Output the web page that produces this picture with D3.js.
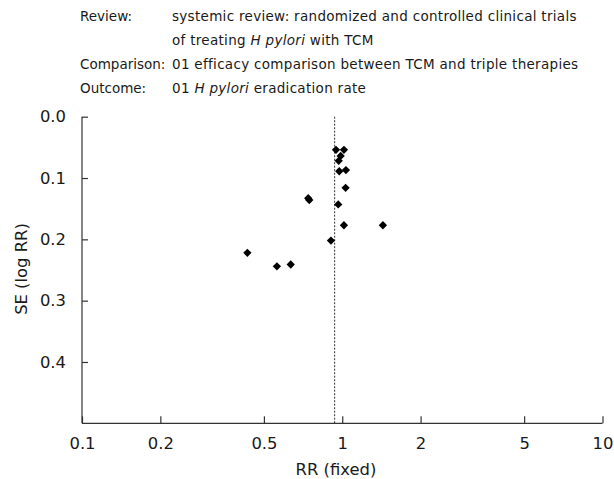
<!DOCTYPE html>
<html>
<head>
<meta charset="utf-8">
<script src="https://cdn.jsdelivr.net/npm/d3@7"></script>
<style>
  body { margin: 0; background: #fff; }
  text { font-family: "DejaVu Sans", sans-serif; fill: #1a1a1a; }
</style>
</head>
<body>
<svg id="chart" width="614" height="479"></svg>
<script>
// risque relatif de chaque essai (axe x) et son erreur standard (axe y)
const rrValues = [0.946, 1.015, 0.986, 0.969, 0.974, 1.033, 1.030, 0.740, 0.747, 0.965, 1.015, 1.433, 0.905, 0.432, 0.561, 0.634];
const seValues = [0.054, 0.054, 0.064, 0.072, 0.089, 0.087, 0.116, 0.133, 0.136, 0.143, 0.177, 0.177, 0.202, 0.222, 0.244, 0.241];
const pooledRR = 0.935;
const xTicks = [0.1, 0.2, 0.5, 1, 2, 5, 10];
const yTicks = [0.0, 0.1, 0.2, 0.3, 0.4];

const svg = d3.select('#chart');

const x = d3.scaleLog().domain([0.1, 10]).range([82, 602.5]);
const y = d3.scaleLinear().domain([0, 0.5]).range([116.7, 423.3]);

// en-tête
const header = [
  { lab: 'Review:', parts: [['systemic review: randomized and controlled clinical trials', false]] },
  { lab: '', parts: [['of treating ', false], ['H pylori', true], [' with TCM', false]] },
  { lab: 'Comparison:', parts: [['01 efficacy comparison between TCM and triple therapies', false]] },
  { lab: 'Outcome:', parts: [['01 ', false], ['H pylori', true], [' eradication rate', false]] }
];
header.forEach(function (h, i) {
  let yy = 20.5 + i * 24;
  svg.append('text').attr('x', 80).attr('y', yy).attr('font-size', 13.5).text(h.lab);
  let t = svg.append('text').attr('x', 172).attr('y', yy).attr('font-size', 13.5)
    .attr('letter-spacing', 0.3);
  h.parts.forEach(function (p) {
    t.append('tspan').attr('font-style', p[1] ? 'italic' : 'normal').text(p[0]);
  });
});

// axes
const xAxis = d3.axisBottom(x).tickValues(xTicks).tickSize(-6).tickPadding(14)
  .tickFormat(d3.format('~g'));
const gx = svg.append('g').attr('transform', 'translate(0,' + y(0.5) + ')').call(xAxis);
gx.select('.domain').attr('d', 'M' + x(0.1) + ',0H' + x(10));

const yAxis = d3.axisLeft(y).tickValues(yTicks).tickSize(-6).tickPadding(16)
  .tickFormat(d3.format('.1f'));
const gy = svg.append('g').attr('transform', 'translate(' + x(0.1) + ',0)').call(yAxis);
gy.select('.domain').attr('d', 'M0,' + y(0) + 'V' + y(0.5));

svg.selectAll('.tick text').attr('font-size', 16.4).attr('font-family', '"DejaVu Sans", sans-serif').attr('fill', '#1a1a1a');
svg.selectAll('.tick line, .domain').attr('stroke', '#333').attr('stroke-width', 1.2);
gx.selectAll('.tick line').attr('y2', -7);

// ligne de l'effet combiné
svg.append('line')
  .attr('x1', x(pooledRR)).attr('x2', x(pooledRR))
  .attr('y1', y(0)).attr('y2', y(0.5))
  .attr('stroke', '#333').attr('stroke-width', 1).attr('stroke-dasharray', '2,1.5');

// points
const sym = d3.symbol().type(d3.symbolDiamond2).size(44);
svg.selectAll('path.pt')
  .data(rrValues)
  .enter().append('path')
  .attr('class', 'pt')
  .attr('d', sym)
  .attr('transform', function (d, i) { return 'translate(' + x(d) + ',' + y(seValues[i]) + ')'; })
  .attr('fill', '#000');

// titres des axes
svg.append('text').attr('x', 336).attr('y', 475).attr('text-anchor', 'middle')
  .attr('font-size', 16.4).text('RR (fixed)');
svg.append('text').attr('transform', 'translate(27,269) rotate(-90)').attr('text-anchor', 'middle')
  .attr('font-size', 16.4).text('SE (log RR)');
</script>
</body>
</html>
